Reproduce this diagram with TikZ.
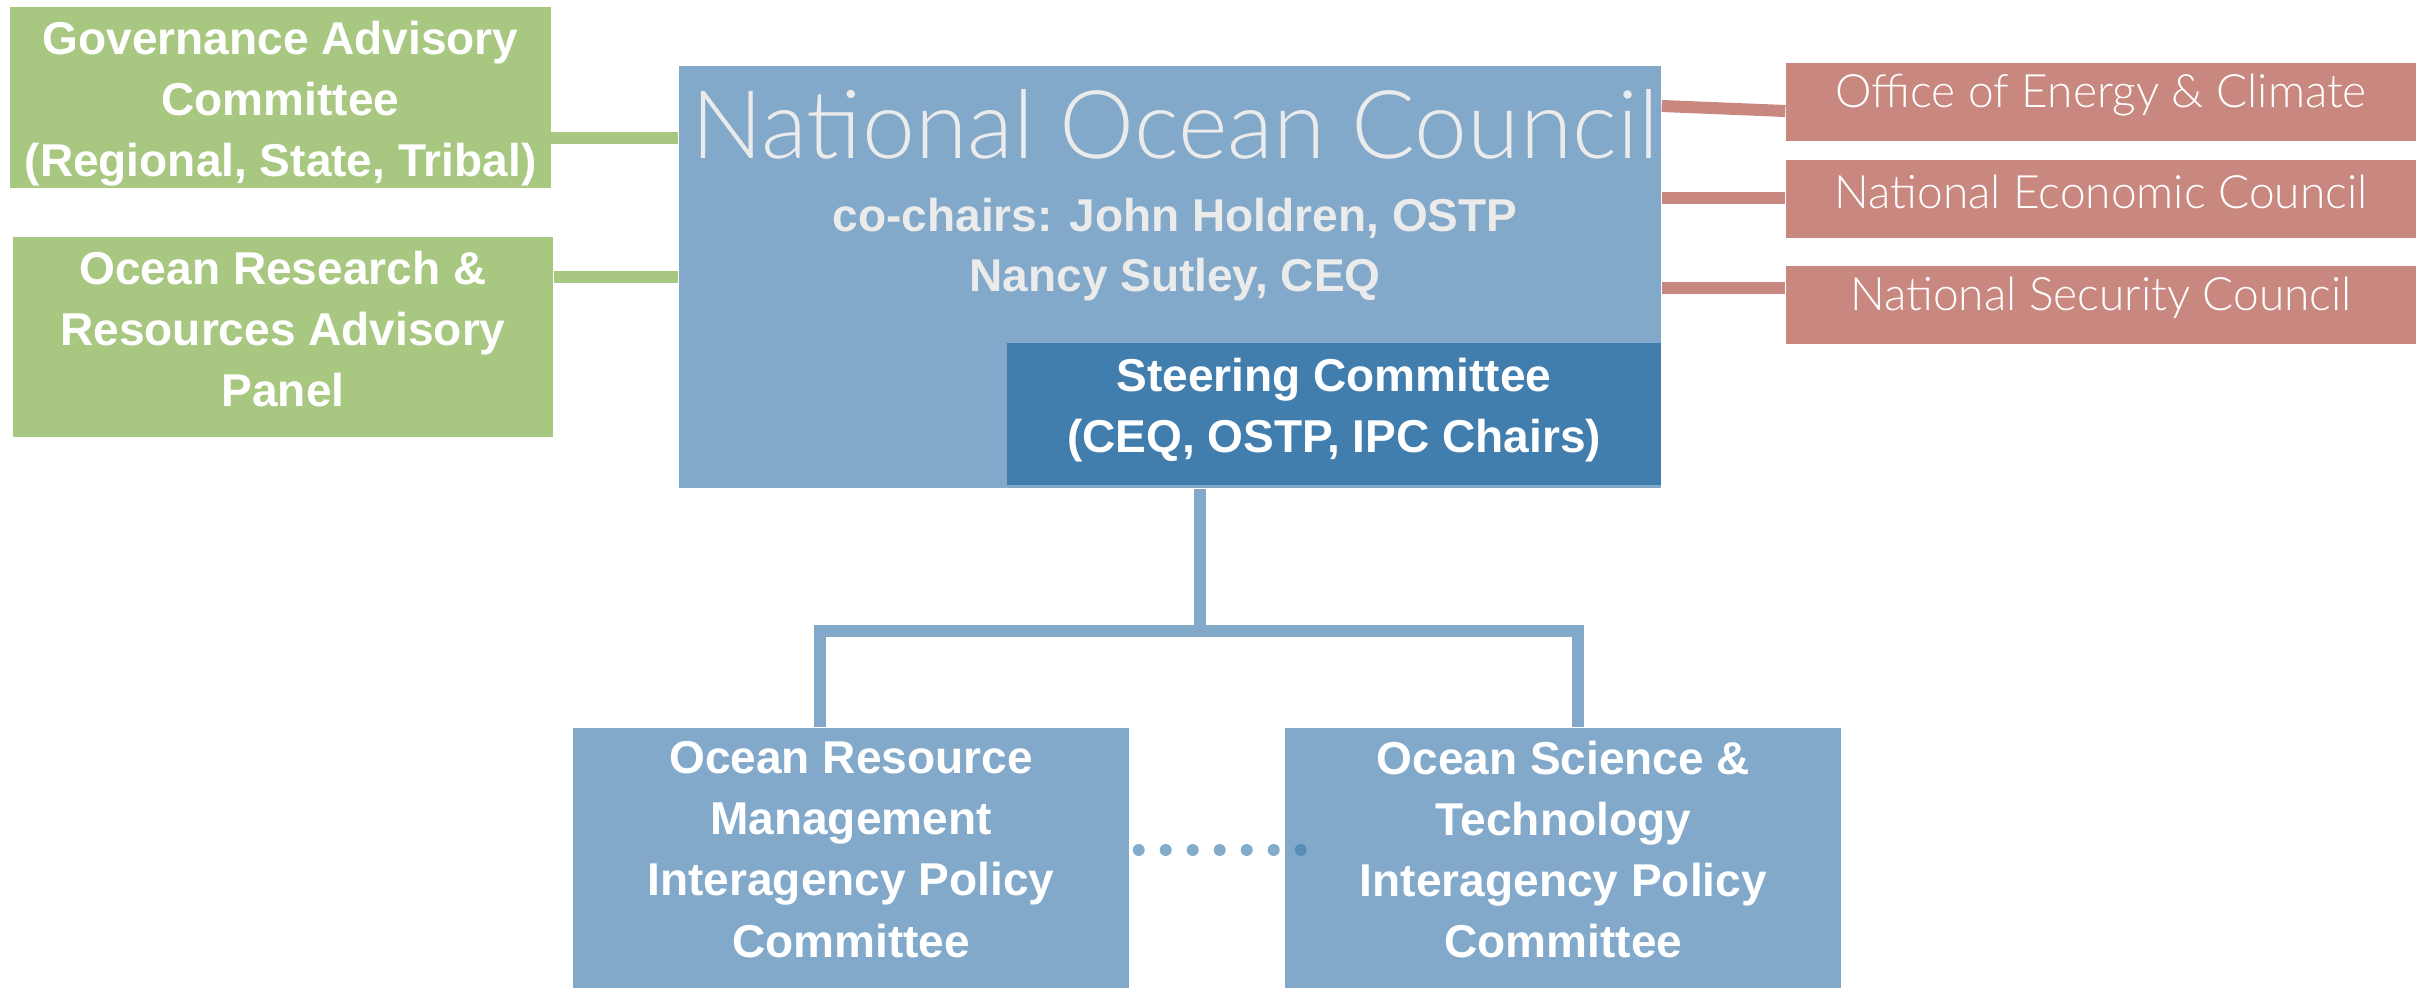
\documentclass[tikz,border=0pt]{standalone}
\usepackage{fontspec}
\setmainfont{Liberation Sans}
\newfontfamily\lightfont{Lato}[UprightFont=* Light]
\usetikzlibrary{positioning, calc}

\definecolor{nocblue}{HTML}{82A9C9}
\definecolor{steerblue}{HTML}{417EAE}
\definecolor{advgreen}{HTML}{A8C882}
\definecolor{whred}{HTML}{C88880}
\definecolor{paletext}{HTML}{EBEBEB}

\begin{document}
\begin{tikzpicture}[
    font=\fontsize{13.1}{17.4}\selectfont\bfseries,
    box/.style={rectangle, inner sep=0pt},
    boxtext/.style={inner sep=0pt, text=white, align=center},
    advbox/.style={box, fill=advgreen, minimum width=5.40cm},
    whbox/.style={box, fill=whred, minimum width=6.30cm, minimum height=0.78cm},
    whtext/.style={boxtext, font=\fontsize{13.1}{17.4}\selectfont\lightfont},
    ipcbox/.style={box, fill=nocblue, minimum width=5.56cm, minimum height=2.60cm},
    gline/.style={advgreen, line width=1.2mm},
    rline/.style={whred, line width=1.2mm},
    bline/.style={nocblue, line width=1.2mm},
    dotline/.style={steerblue, draw opacity=0.65, line width=1.2mm, line cap=round,
        dash pattern=on 0pt off 2.7mm},
]
    \useasboundingbox (0,0) rectangle (24.23,-9.88);

    % Nodes
    \node[advbox, minimum height=1.81cm] (gac) at (2.805,-0.975) {};
    \node[boxtext] (gactext) at ([yshift=-0.6mm]gac.center)
        {Governance Advisory\\Committee\\(Regional, State, Tribal)};
    \node[advbox, minimum height=2.00cm] (orrap) at (2.83,-3.37) {};
    \node[boxtext] (orraptext) at ([yshift=0.8mm]orrap.center)
        {Ocean Research \&\\Resources Advisory\\Panel};

    \node[box, fill=nocblue, minimum width=9.82cm, minimum height=4.22cm] (noc) at (11.70,-2.77) {};
    \node[box, fill=steerblue, minimum width=6.54cm, minimum height=1.42cm, anchor=south east]
        (steer) at ([yshift=0.3mm]noc.south east) {};
    \node[boxtext] (steertext) at ([yshift=0.4mm]steer.center)
        {Steering Committee\\(CEQ, OSTP, IPC Chairs)};
    \node[anchor=base, text=paletext, font=\fontsize{27}{30}\selectfont\lightfont]
        (noctitle) at (11.75,-1.59) {National Ocean Council};
    \node[anchor=base, text=paletext] (chairs) at (11.75,-2.32) {co-chairs: John Holdren, OSTP};
    \node[anchor=base, text=paletext] (chairs2) at (11.75,-2.92) {Nancy Sutley, CEQ};

    \node[whbox] (oec) at (21.01,-1.02) {};
    \node[whbox, below=0.18 of oec] (nec) {};
    \node[whbox, below=0.26 of nec] (nsc) {};
    \node[whtext] (oectext) at ([yshift=0.7mm]oec.center) {Office of Energy \& Climate};
    \node[whtext] (nectext) at ([yshift=0.7mm]nec.center) {National Economic Council};
    \node[whtext] (nsctext) at ([yshift=0.7mm]nsc.center) {National Security Council};

    \node[ipcbox] (orm) at (8.51,-8.58) {};
    \node[ipcbox, right=1.55 of orm] (ost) {};
    \node[boxtext] (ormtext) at ([yshift=0.85mm]orm.center)
        {Ocean Resource\\Management\\Interagency Policy\\Committee};
    \node[boxtext] (osttext) at ([yshift=0.85mm]ost.center)
        {Ocean Science \&\\Technology\\Interagency Policy\\Committee};

    \coordinate (fork) at (12.00,-6.31);

    % Connectors
    \draw[gline] ([yshift=-4.05mm]gac.east) -- ([yshift=-4.05mm]gac.east -| noc.west);
    \draw[gline] ([yshift=6mm]orrap.east) -- ([yshift=6mm]orrap.east -| noc.west);

    \draw[rline] ([yshift=-0.4mm]oec.west -| noc.east) -- ([yshift=-0.9mm]oec.west);
    \draw[rline] ([yshift=0.1mm]nec.west -| noc.east) -- ([yshift=0.1mm]nec.west);
    \draw[rline] ([yshift=1.7mm]nsc.west -| noc.east) -- ([yshift=1.7mm]nsc.west);

    \draw[bline] (noc.south -| fork) -- (fork);
    \draw[bline] ([xshift=-3.15mm]orm.north) |- (fork) -| ([xshift=1.45mm]ost.north);

    \draw[dotline] ([xshift=0.9mm, yshift=0.8mm]orm.east) -- ([xshift=1.7mm, yshift=0.8mm]ost.west);

\end{tikzpicture}
\end{document}
